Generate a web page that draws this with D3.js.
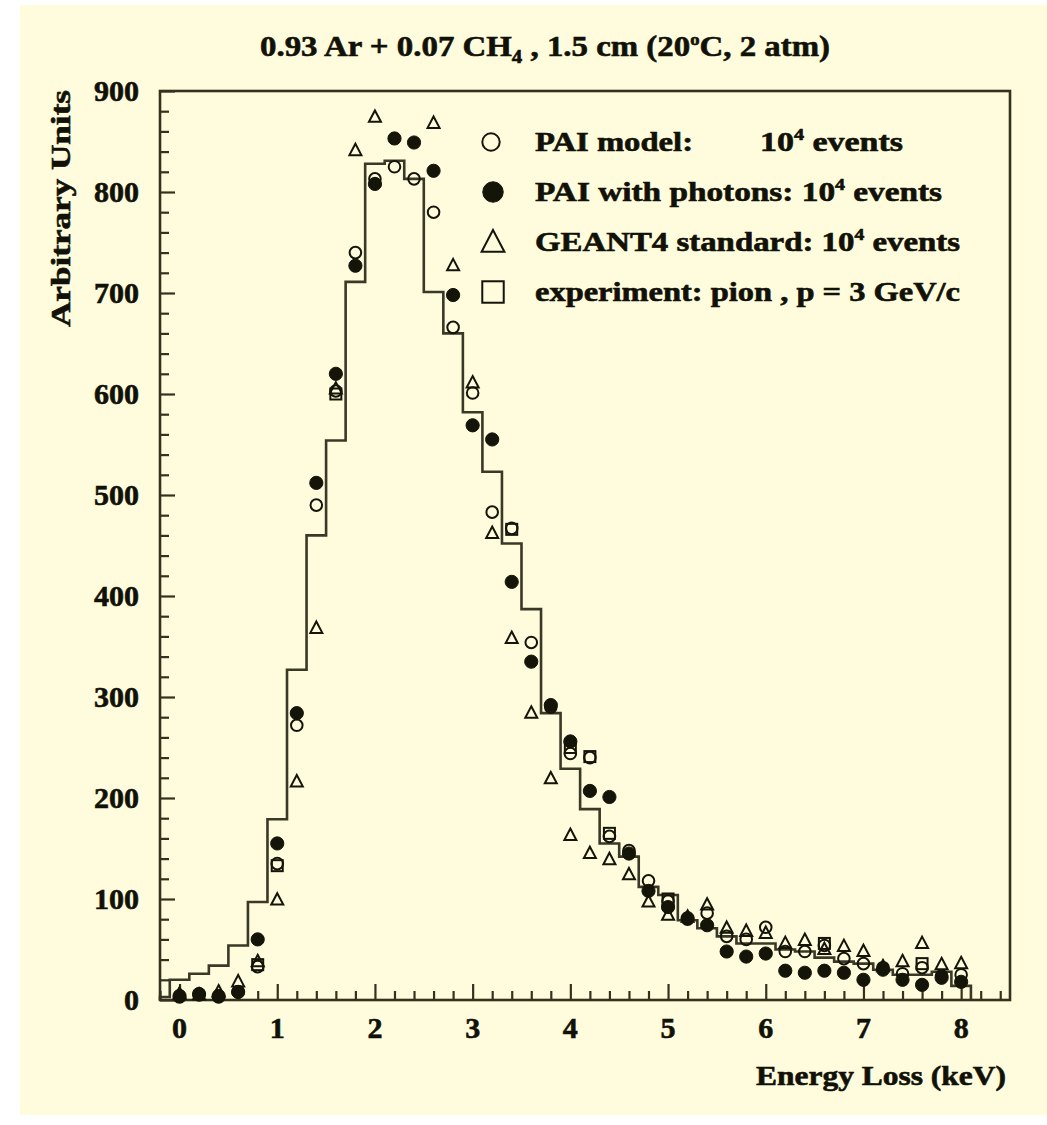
<!DOCTYPE html>
<html>
<head>
<meta charset="utf-8">
<script src="https://cdn.jsdelivr.net/npm/d3@7"></script>
<style>
  html, body { margin: 0; padding: 0; background: #ffffff; }
  svg { display: block; }
  text { font-family: "Liberation Serif", "Times New Roman", serif; font-weight: bold; fill: #111108; stroke: #111108; stroke-width: 0.6; }
</style>
</head>
<body>
<svg id="chart" width="1047" height="1125"></svg>
<script>
// ---------------- data ----------------
const energy = [0, 0.2, 0.4, 0.6, 0.8, 1.0, 1.2, 1.4, 1.6, 1.8,
                2.0, 2.2, 2.4, 2.6, 2.8, 3.0, 3.2, 3.4, 3.6, 3.8,
                4.0, 4.2, 4.4, 4.6, 4.8, 5.0, 5.2, 5.4, 5.6, 5.8,
                6.0, 6.2, 6.4, 6.6, 6.8, 7.0, 7.2, 7.4, 7.6, 7.8, 8.0];

const paiModel = [3, 5, 3, 8, 33, 135, 272, 490, 603, 740,
                  813, 825, 813, 780, 666, 601, 483, 467, 354, 290,
                  244, 240, 162, 148, 118, 98, 80, 86, 63, 60,
                  72, 48, 48, 54, 41, 36, 32, 26, 32, 24, 25];

const paiPhotons = [4, 6, 4, 8, 60, 155, 284, 512, 620, 727,
                    808, 853, 849, 821, 698, 569, 555, 414, 335, 292,
                    256, 207, 201, 145, 108, 92, 81, 74, 48, 43,
                    46, 29, 27, 29, 27, 20, 30, 20, 15, 22, 18];

const geant4 = [6, 5, 8, 18, 38, 99, 216, 368, 605, 841,
                874, null, null, 868, 727, 611, 462, 358, 284, 219,
                163, 145, 139, 124, 97, 84, 82, 94, 71, 68,
                66, 56, 59, 50, 53, 48, 33, 38, 56, 35, 36];

const experiment = [null, null, null, null, 35, 133, null, null, 600, null,
                    null, null, null, null, null, null, null, 466, null, null,
                    250, 241, 165, null, null, 100, null, null, null, null,
                    null, null, null, 56, null, null, null, null, 36, null, null];

const histCenters = [-0.2, 0, 0.2, 0.4, 0.6, 0.8, 1.0, 1.2, 1.4, 1.6, 1.8,
                     2.0, 2.2, 2.4, 2.6, 2.8, 3.0, 3.2, 3.4, 3.6, 3.8,
                     4.0, 4.2, 4.4, 4.6, 4.8, 5.0, 5.2, 5.4, 5.6, 5.8,
                     6.0, 6.2, 6.4, 6.6, 6.8, 7.0, 7.2, 7.4, 7.6, 7.8, 8.0];
const histValues = [3, 20, 26, 34, 54, 97, 179, 327, 460, 554, 711,
                    828, 831, 813, 701, 660, 582, 523, 452, 387, 284,
                    229, 189, 155, 142, 112, 104, 79, 71, 63, 56,
                    56, 50, 48, 42, 38, 36, 30, 25, 25, 28, 14];
const histBinWidth = 0.2;

const xTickValues = [0, 1, 2, 3, 4, 5, 6, 7, 8];
const yTickValues = [0, 100, 200, 300, 400, 500, 600, 700, 800, 900];

const legendItems = [
  { sym: "open",     label: "PAI model:",        extra: "10", sup: "4", tail: "  events" },
  { sym: "filled",   label: "PAI with photons: ", extra: "10", sup: "4", tail: "  events" },
  { sym: "triangle", label: "GEANT4 standard: ",  extra: "10", sup: "4", tail: "  events" },
  { sym: "square",   label: "experiment: pion , p = 3 GeV/c" }
];

// ---------------- layout ----------------
const svg = d3.select("#chart");
const ink = "#141409";
const frameCol = "#34321f";

svg.append("rect").attr("x", 20).attr("y", 5).attr("width", 1027).attr("height", 1110)
   .attr("fill", "#fefcdc");

const plot = { left: 160, right: 1010, top: 91, bottom: 1000 };
const x = d3.scaleLinear().domain([-0.2, 8.5]).range([plot.left, plot.right]);
const y = d3.scaleLinear().domain([0, 900]).range([plot.bottom, plot.top]);

// ---------------- histogram ----------------
const histPts = [];
histCenters.forEach((c, i) => {
  const lo = Math.max(c - histBinWidth / 2, x.domain()[0]);
  const hi = c + histBinWidth / 2;
  histPts.push([lo, histValues[i]]);
  histPts.push([hi, histValues[i]]);
});
histPts.push([histCenters[histCenters.length - 1] + histBinWidth / 2, 0]);
histPts.unshift([x.domain()[0], 0]);
svg.append("path")
   .attr("d", d3.line().x(d => x(d[0])).y(d => y(d[1]))(histPts))
   .attr("fill", "none").attr("stroke", "#3a3826").attr("stroke-width", 2.6)
   .attr("stroke-linejoin", "miter");

// ---------------- axes ----------------
const minorX = d3.range(-1, 43).map(k => k * 0.2).filter(v => Math.abs(v - Math.round(v)) > 1e-6 && v <= 8.45);
const minorY = d3.range(0, 46).map(k => k * 20).filter(v => v % 100 !== 0);

const xAxisMajor = d3.axisTop(x).tickValues(xTickValues).tickSize(16).tickFormat("");
const xAxisMinor = d3.axisTop(x).tickValues(minorX).tickSize(9).tickFormat("");
const yAxisMajor = d3.axisRight(y).tickValues(yTickValues).tickSize(15).tickFormat("");
const yAxisMinor = d3.axisRight(y).tickValues(minorY).tickSize(9).tickFormat("");

[xAxisMajor, xAxisMinor].forEach(ax => {
  const g = svg.append("g").attr("transform", `translate(0,${plot.bottom})`).call(ax);
  g.select(".domain").remove();
  g.selectAll("line").attr("stroke", frameCol).attr("stroke-width", 2.2);
});
[yAxisMajor, yAxisMinor].forEach(ax => {
  const g = svg.append("g").attr("transform", `translate(${plot.left},0)`).call(ax);
  g.select(".domain").remove();
  g.selectAll("line").attr("stroke", frameCol).attr("stroke-width", 2.2);
});

// frame
svg.append("rect").attr("x", plot.left).attr("y", plot.top)
   .attr("width", plot.right - plot.left).attr("height", plot.bottom - plot.top)
   .attr("fill", "none").attr("stroke", frameCol).attr("stroke-width", 2.6);

// tick labels
svg.append("g").selectAll("text").data(yTickValues).join("text")
   .attr("x", 139).attr("y", d => y(d) + 10)
   .attr("text-anchor", "end").attr("font-size", 30)
   .text(d => d);
svg.append("g").selectAll("text").data(xTickValues).join("text")
   .attr("x", d => x(d)).attr("y", 1038)
   .attr("text-anchor", "middle").attr("font-size", 30)
   .text(d => d);

// axis titles
svg.append("text").attr("x", 1006).attr("y", 1085).attr("text-anchor", "end")
   .attr("font-size", 28).attr("textLength", 250).attr("lengthAdjust", "spacingAndGlyphs")
   .text("Energy Loss (keV)");
svg.append("text").attr("transform", "translate(70,327) rotate(-90)")
   .attr("font-size", 27).attr("textLength", 237).attr("lengthAdjust", "spacingAndGlyphs")
   .text("Arbitrary Units");

// title
const title = svg.append("text").attr("x", 260).attr("y", 56).attr("font-size", 30)
   .attr("textLength", 570).attr("lengthAdjust", "spacingAndGlyphs");
title.append("tspan").text("0.93 Ar + 0.07 CH");
title.append("tspan").attr("dy", 7).attr("font-size", 19).text("4");
title.append("tspan").attr("dy", -7).text(" , 1.5 cm (20");
title.append("tspan").attr("dy", -11).attr("font-size", 17).text("o");
title.append("tspan").attr("dy", 11).text("C, 2 atm)");

// ---------------- markers ----------------
const triPath = (w) => {
  const h = w * 0.95;
  return `M0,${-h * 0.6}L${w / 2},${h * 0.4}L${-w / 2},${h * 0.4}Z`;
};
function drawMarker(g, kind, cx, cy, scale) {
  const s = scale || 1;
  if (kind === "open") {
    g.append("circle").attr("cx", cx).attr("cy", cy).attr("r", 5.8 * s)
     .attr("fill", "none").attr("stroke", ink).attr("stroke-width", 2);
  } else if (kind === "filled") {
    g.append("circle").attr("cx", cx).attr("cy", cy).attr("r", 6.6 * s)
     .attr("fill", ink).attr("stroke", ink).attr("stroke-width", 1);
  } else if (kind === "triangle") {
    g.append("path").attr("transform", `translate(${cx},${cy})`).attr("d", triPath(12 * s))
     .attr("fill", "none").attr("stroke", ink).attr("stroke-width", 2).attr("stroke-linejoin", "miter");
  } else if (kind === "square") {
    g.append("rect").attr("x", cx - 5.5 * s).attr("y", cy - 5.5 * s)
     .attr("width", 11 * s).attr("height", 11 * s)
     .attr("fill", "none").attr("stroke", ink).attr("stroke-width", 2);
  }
}

const mg = svg.append("g");
energy.forEach((e, i) => { if (geant4[i] != null) drawMarker(mg, "triangle", x(e), y(geant4[i])); });
energy.forEach((e, i) => { if (experiment[i] != null) drawMarker(mg, "square", x(e), y(experiment[i])); });
energy.forEach((e, i) => { if (paiModel[i] != null) drawMarker(mg, "open", x(e), y(paiModel[i])); });
energy.forEach((e, i) => { if (paiPhotons[i] != null) drawMarker(mg, "filled", x(e), y(paiPhotons[i])); });

// ---------------- legend ----------------
const lg = svg.append("g");
const rowY = [142, 192, 242, 292];
const legendTotals = [0, 407, 425, 425];
legendItems.forEach((it, i) => {
  const cy = rowY[i];
  if (it.sym === "open") drawMarker(lg, "open", 491, cy, 1.5);
  if (it.sym === "filled") drawMarker(lg, "filled", 493, cy, 1.55);
  if (it.sym === "triangle") drawMarker(lg, "triangle", 493, cy + 1, 1.9);
  if (it.sym === "square") drawMarker(lg, "square", 493, cy, 1.95);
  const base = cy + 9;
  if (i === 0) {
    lg.append("text").attr("x", 535).attr("y", base).attr("font-size", 27)
      .attr("textLength", 158).attr("lengthAdjust", "spacingAndGlyphs").text(it.label);
    const t = lg.append("text").attr("x", 760).attr("y", base).attr("font-size", 27)
      .attr("textLength", 143).attr("lengthAdjust", "spacingAndGlyphs");
    t.append("tspan").text(it.extra);
    t.append("tspan").attr("dy", -11).attr("font-size", 16).text(it.sup);
    t.append("tspan").attr("dy", 11).text(it.tail);
  } else if (it.extra) {
    const t = lg.append("text").attr("x", 535).attr("y", base).attr("font-size", 27)
      .attr("textLength", legendTotals[i]).attr("lengthAdjust", "spacingAndGlyphs");
    t.append("tspan").text(it.label + it.extra);
    t.append("tspan").attr("dy", -11).attr("font-size", 16).text(it.sup);
    t.append("tspan").attr("dy", 11).text(it.tail);
  } else {
    lg.append("text").attr("x", 535).attr("y", base).attr("font-size", 27)
      .attr("textLength", legendTotals[i]).attr("lengthAdjust", "spacingAndGlyphs")
      .text(it.label);
  }
});
</script>
</body>
</html>
